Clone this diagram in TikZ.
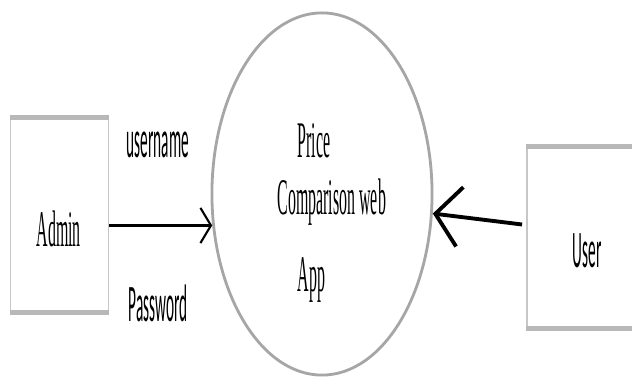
\documentclass[tikz,border=0pt]{standalone}
\usepackage{fontspec}
\newfontfamily\admfont[FakeStretch=0.31]{Liberation Serif}
\newfontfamily\lblfont[FakeStretch=0.29]{Carlito}
\usetikzlibrary{shapes.geometric,arrows.meta,calc}
\definecolor{edgegray}{gray}{0.72}
\definecolor{sidegray}{gray}{0.78}
\definecolor{ringgray}{gray}{0.65}

\begin{document}
\begin{tikzpicture}[x=0.01cm,y=-0.01cm,
    entity/.style={draw=sidegray,line width=0.5pt,inner sep=0},
    bar/.style={draw=edgegray,line width=1.4pt},
    serif text/.style={anchor=base west,inner sep=0,font=\admfont\fontsize{14.6}{16}\selectfont},
    sans text/.style={anchor=base west,inner sep=0,font=\lblfont\fontsize{15}{17}\selectfont}]
  \clip (0,0) rectangle (632,379);
  \fill[white] (0,0) rectangle (632,379);

  % admin box
  \node[entity,minimum width=0.98cm,minimum height=1.94cm] (admin) at (59.5,215) {};
  \draw[bar] (admin.north west) -- (admin.north east);
  \draw[bar] (admin.south west) -- (admin.south east);
  \node[serif text] (admintxt) at (36,247) {Admin};

  % user box, runs off the right edge
  \node[entity,minimum width=1.16cm,minimum height=1.81cm] (user) at (585,237.5) {};
  \draw[bar] (user.north west) -- (user.north east);
  \draw[bar] (user.south west) -- (user.south east);
  \node[sans text] (usertxt) at (572,268) {User};

  % process
  \node[ellipse,draw=ringgray,line width=0.8pt,minimum width=2.2cm,minimum height=3.62cm,inner sep=0] (app) at (322,194) {};
  \node[serif text] (price) at (297,158) {Price};
  \node[serif text] (compweb) at (277,215) {Comparison web};
  \node[serif text] (appname) at (297,292) {App};

  % flows
  \node[sans text] (uname) at (126,158) {username};
  \node[sans text] (pword) at (128,322) {Password};
  \draw[line width=0.6pt,-{Straight Barb[length=3pt,width=10pt]}]
    (admin.east |- app.196) -- (app.196);
  \draw[line width=1.1pt,-{Straight Barb[length=7pt,width=17pt]}]
    ($(user.west)+(-4,-13)$) -- (app.350);
\end{tikzpicture}
\end{document}
